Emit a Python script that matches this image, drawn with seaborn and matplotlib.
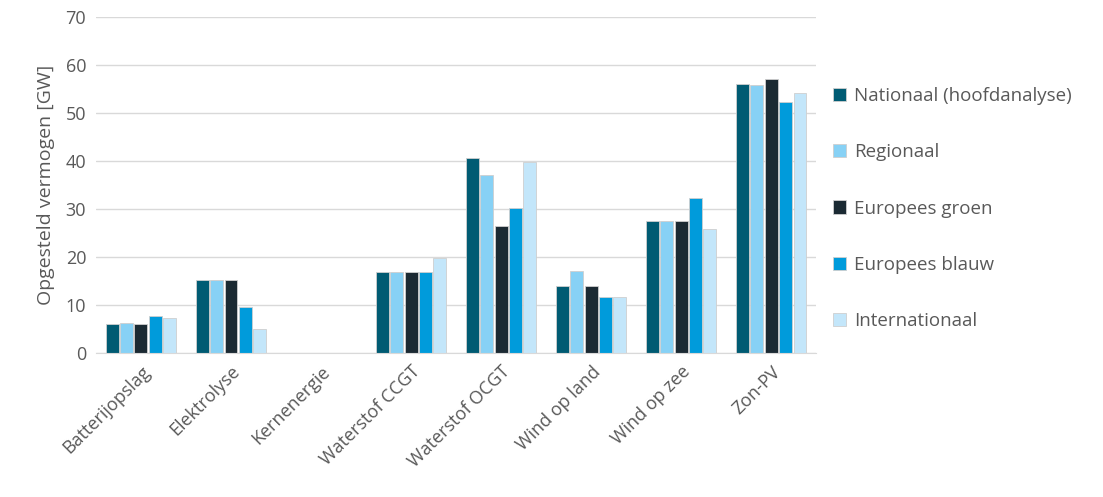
import pandas as pd
import seaborn as sns
import matplotlib.pyplot as plt

# Categories and scenario values (GW)
categories = ["Batterijopslag", "Elektrolyse", "Kernenergie", "Waterstof CCGT",
              "Waterstof OCGT", "Wind op land", "Wind op zee", "Zon-PV"]
scenarios = ["Nationaal (hoofdanalyse)", "Regionaal", "Europees groen",
             "Europees blauw", "Internationaal"]

nationaal = [6.0, 15.3, 0, 16.9, 40.7, 13.9, 27.5, 56.0]
regionaal = [6.3, 15.3, 0, 16.9, 37.2, 17.0, 27.5, 55.9]
europees_groen = [6.0, 15.3, 0, 16.9, 26.4, 13.9, 27.5, 57.2]
europees_blauw = [7.6, 9.6, 0, 16.9, 30.2, 11.7, 32.4, 52.4]
internationaal = [7.3, 5.0, 0, 19.7, 39.8, 11.7, 25.8, 54.2]

colors = ["#005b73", "#87d1f5", "#1b2a33", "#009bdb", "#c3e6fa"]

series = [nationaal, regionaal, europees_groen, europees_blauw, internationaal]
rows = []
for name, vals in zip(scenarios, series):
    for cat, v in zip(categories, vals):
        rows.append({"Technologie": cat, "Scenario": name, "GW": v})
df = pd.DataFrame(rows)

sns.set_style("white")
plt.rcParams["font.family"] = ["Open Sans", "DejaVu Sans"]
text_color = "#595959"

fig, ax = plt.subplots(figsize=(11.03, 4.97), dpi=100)
fig.subplots_adjust(left=0.087, right=0.74, top=0.965, bottom=0.29)

sns.barplot(data=df, x="Technologie", y="GW", hue="Scenario",
            hue_order=scenarios, order=categories, palette=colors,
            saturation=1, width=0.8, gap=0.1, edgecolor="#cfcfcf",
            linewidth=0.6, ax=ax)

ax.set_ylim(0, 70)
ax.set_yticks(range(0, 71, 10))
ax.yaxis.grid(True, color="#d9d9d9", linewidth=1)
ax.set_axisbelow(True)
for side in ["top", "right", "left"]:
    ax.spines[side].set_visible(False)
ax.spines["bottom"].set_color("#d9d9d9")
ax.tick_params(axis="both", length=0, labelsize=13, colors=text_color, pad=7)
ax.set_xlabel("")
ax.set_ylabel("Opgesteld vermogen [GW]", fontsize=14, color=text_color,
              labelpad=8)
plt.setp(ax.get_xticklabels(), rotation=45, ha="right", rotation_mode="anchor")

leg = ax.legend(loc="center left", bbox_to_anchor=(1.0, 0.43), frameon=False,
                fontsize=13.5, labelspacing=2.05, handlelength=0.7,
                handleheight=0.7, handletextpad=0.4)
for t in leg.get_texts():
    t.set_color(text_color)

plt.savefig("out.png", dpi=100)
plt.close()
